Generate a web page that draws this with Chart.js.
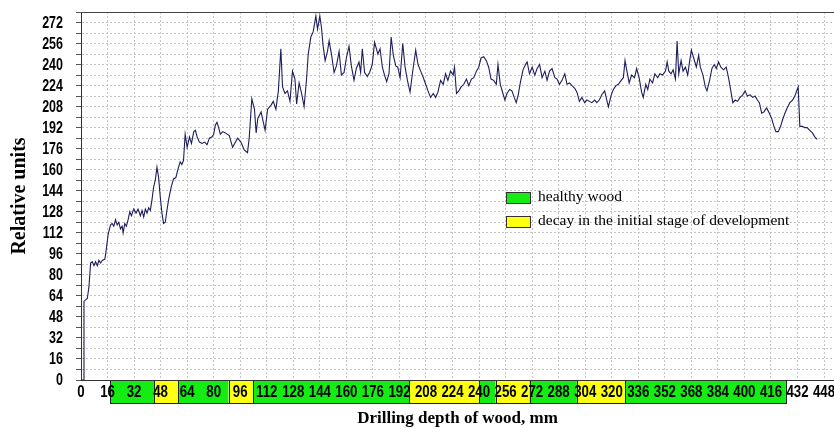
<!DOCTYPE html>
<html>
<head>
<meta charset="utf-8">
<script src="https://cdn.jsdelivr.net/npm/chart.js@4.4.1/dist/chart.umd.min.js"></script>
<style>
  html, body { margin: 0; padding: 0; background: #fff; }
  #wrap { position: relative; width: 834px; height: 429px; }
</style>
</head>
<body>
<div id="wrap"><canvas id="chart"></canvas></div>
<script>
// drilling depth (mm) and resistance (relative units)
const depth = [
  0, 1.5, 1.8, 2.8, 3.8, 4.8, 5.8, 6.8, 7.8, 8.8, 9.8, 10.8, 11.8, 12.8, 14.4, 15.2, 16.4, 17.8, 18.8, 19.8,
  20.8, 21.8, 22.8, 23.8, 24.8, 25.4, 26.4, 27.4, 28.4, 29.4, 30.4, 31.8, 33.2, 34.4, 35.8, 36.8, 37.8, 38.8, 39.8, 40.8,
  41.8, 42.8, 43.8, 44.8, 45.8, 46.8, 47.8, 48.8, 49.8, 50.8, 51.8, 52.8, 54.4, 55.8, 57.2, 58.4, 59.8, 60.8, 61.8, 62.8,
  64, 65.4, 66.6, 68, 69, 70, 71.4, 73, 74.6, 76, 77.4, 79, 80, 81, 82, 83, 84, 85.5, 87, 89.4,
  91.4, 94.4, 96.4, 98.4, 100.4, 101.4, 103, 104.6, 105.6, 106.6, 108.6, 109.6, 111, 112.5, 114.5, 115.9, 117.5, 119, 120.5, 121.5,
  123, 124.5, 126, 127.5, 129, 130, 131.5, 133, 134.5, 136, 137, 138.6, 140, 141.6, 142.6, 144, 145, 146, 147.2, 148.6,
  149.6, 151, 152.6, 154, 155.6, 157, 158.6, 160, 161.6, 163, 164.6, 166, 167.6, 168.6, 169.6, 171, 172.6, 174, 175.6, 177,
  179, 180.3, 181.7, 183, 184.3, 185.7, 187, 188.3, 189.8, 191, 192.4, 194, 195.4, 196.8, 198.4, 199.8, 201.8, 203.2, 204.8, 206.4,
  207.8, 209.2, 210.8, 212.4, 213.8, 215.2, 216.8, 218.4, 219.8, 221.2, 222.8, 224.4, 225.2, 226.4, 227.8, 229.2, 230.8, 232.4, 233.8, 235.4,
  236.8, 238.4, 239.8, 241.2, 242.8, 244.4, 245.8, 247.2, 248.8, 250.4, 251.4, 252.8, 254.4, 255.6, 256.8, 258.4, 259.8, 261.2, 262.4, 263.6,
  265, 266.5, 268, 269, 270.4, 272, 273.6, 275, 276.5, 278, 279.7, 281, 282.5, 284, 285.7, 287, 288.5, 290, 291.7, 293,
  294.6, 296, 297.7, 299, 300.5, 302, 303.7, 305, 306.5, 308, 309.7, 311, 312.5, 314, 315.7, 317, 318, 319.7, 321, 322.5,
  324, 325.7, 327, 328, 329, 330.5, 332, 333.7, 335, 336.5, 338, 339, 340.5, 341.7, 343, 344.6, 346, 347.7, 349, 350.6,
  352.4, 353.4, 354.4, 355.8, 357, 358.4, 359.4, 360.4, 361.8, 363, 364.4, 365.8, 367, 368, 369.4, 371, 372.4, 373.4, 375, 376.4,
  377.4, 379, 380.4, 381.8, 383, 384.4, 385.8, 387.4, 389, 390.4, 391.8, 393, 394.4, 395.8, 397.4, 399, 400.4, 401.8, 403.4, 405,
  406.4, 407.8, 409, 410.4, 411.8, 413.4, 415, 416.4, 417.8, 419, 420.4, 421.8, 423, 424.4, 425.8, 427.4, 429, 430.4, 431.8, 432.4,
  433.4, 435, 436.4, 437.8, 439.4, 441, 442.4, 443.8
];
const amplitude = [
  0, 0, 60, 61, 62, 71, 89, 90, 87, 90, 87, 91, 89, 91, 92, 99, 111, 118, 119, 117,
  122, 118, 120, 115, 117, 112, 119, 117, 122, 128, 125, 130, 127, 130, 125, 129, 124, 130, 127, 131,
  129, 137, 147, 152, 162, 154, 139, 127, 119, 120, 129, 137, 147, 153, 154, 160, 166, 164, 167, 187,
  177, 185, 180, 189, 190, 185, 181, 180, 181, 179, 184, 185, 187, 194, 196, 192, 187, 189, 188, 186,
  177, 184, 181, 175, 173, 184, 214, 206, 188, 199, 204, 198, 190, 206, 209, 212, 206, 220, 252, 223,
  218, 220, 212, 235, 229, 210, 226, 218, 208, 229, 248, 261, 265, 277, 267, 277, 268, 254, 243, 250,
  258, 248, 234, 239, 250, 232, 234, 245, 254, 239, 228, 237, 242, 234, 252, 234, 231, 234, 240, 257,
  248, 252, 238, 232, 227, 233, 261, 247, 239, 238, 230, 256, 238, 228, 219, 233, 251, 240, 235, 230,
  225, 220, 215, 218, 215, 219, 228, 225, 233, 228, 235, 232, 238, 218, 220, 223, 225, 229, 224, 229,
  230, 235, 238, 245, 246, 243, 238, 229, 228, 225, 240, 225, 218, 213, 218, 221, 220, 215, 211, 217,
  227, 236, 240, 242, 233, 238, 232, 237, 240, 230, 235, 228, 235, 237, 230, 229, 225, 228, 233, 225,
  226, 224, 222, 219, 212, 215, 211, 213, 212, 211, 213, 211, 213, 217, 220, 213, 208, 217, 221, 224,
  225, 228, 230, 243, 236, 226, 232, 230, 237, 230, 219, 215, 225, 221, 229, 226, 233, 230, 233, 232,
  235, 242, 235, 233, 236, 229, 258, 233, 243, 235, 238, 232, 243, 251, 245, 238, 247, 238, 232, 223,
  220, 228, 237, 240, 237, 242, 238, 236, 238, 230, 220, 211, 213, 212, 215, 217, 220, 216, 217, 215,
  216, 213, 211, 203, 204, 207, 203, 199, 193, 189, 189, 193, 198, 203, 207, 211, 213, 216, 221, 223,
  193, 193, 192, 192, 190, 188, 185, 183
];

// wood condition strip under the depth axis
const stageFrom = [17.5, 44, 58.5, 89, 104, 198, 240, 250, 270.5, 299, 328];
const stageTo   = [44, 58.5, 89, 104, 198, 240, 250, 270.5, 299, 328, 425];
const stageKind = [0, 1, 0, 1, 0, 1, 0, 1, 0, 1, 0];
const stageNames = ["healthy wood", "decay in the initial stage of development"];
const stageColors = ["#14ec14", "#ffff10"];

const xTickValues = [0, 16, 32, 48, 64, 80, 96, 112, 128, 144, 160, 176, 192, 208, 224, 240, 256, 272, 288, 304, 320, 336, 352, 368, 384, 400, 416, 432, 448];
const yTickValues = [0, 16, 32, 48, 64, 80, 96, 112, 128, 144, 160, 176, 192, 208, 224, 240, 256, 272];

const sans = "'Liberation Sans', Arial, sans-serif";
const serif = "'Liberation Serif', 'DejaVu Serif', serif";

// narrow bold tick labels like the original instrument software
function narrowText(ctx, text, x, y, size, squeeze, align) {
    ctx.save();
    ctx.translate(x, y);
    ctx.scale(squeeze, 1);
    ctx.font = "bold " + size + "px " + sans;
    ctx.textAlign = align;
    ctx.textBaseline = "middle";
    ctx.fillStyle = "#000";
    ctx.fillText(text, 0, 0);
    ctx.restore();
}

const stagePlugin = {
    id: "stages",
    beforeDraw(chart) {
        const ctx = chart.ctx;
        const x = chart.scales.x;
        const top = chart.chartArea.bottom;
        const h = 23;
        ctx.save();
        ctx.strokeStyle = "#222";
        ctx.lineWidth = 1;
        stageFrom.forEach((from, i) => {
            const x1 = x.getPixelForValue(from);
            const x2 = x.getPixelForValue(stageTo[i]);
            ctx.fillStyle = stageColors[stageKind[i]];
            ctx.fillRect(x1, top, x2 - x1, h);
            ctx.strokeRect(Math.round(x1) + 0.5, top + 0.5, Math.round(x2 - x1), h);
        });
        ctx.restore();
    },
    afterDraw(chart) {
        const ctx = chart.ctx;
        const area = chart.chartArea;
        const xs = chart.scales.x;
        const ys = chart.scales.y;

        // top frame
        ctx.save();
        ctx.strokeStyle = "#444";
        ctx.lineWidth = 1;
        ctx.beginPath();
        ctx.moveTo(area.left, area.top + 0.5);
        ctx.lineTo(area.right, area.top + 0.5);
        ctx.stroke();
        ctx.restore();

        // tick labels
        xTickValues.forEach(v => {
            narrowText(ctx, String(v), xs.getPixelForValue(v), area.bottom + 12, 17, 0.78, "center");
        });
        yTickValues.forEach(v => {
            narrowText(ctx, String(v), area.left - 18, ys.getPixelForValue(v) + 1, 16, 0.78, "right");
        });

        // legend
        const lx = 506, ly = 192;
        ctx.save();
        ctx.font = "15.5px " + serif;
        ctx.textBaseline = "middle";
        stageNames.forEach((name, i) => {
            const y = ly + i * 24;
            ctx.fillStyle = stageColors[i];
            ctx.fillRect(lx, y, 24, 11);
            ctx.strokeStyle = "#333";
            ctx.strokeRect(lx + 0.5, y + 0.5, 24, 11);
            ctx.fillStyle = "#000";
            ctx.fillText(name, lx + 32, y + 5);
        });
        ctx.restore();
    }
};

const points = depth.map((d, i) => ({ x: d, y: amplitude[i] }));

new Chart(document.getElementById("chart"), {
    type: "line",
    data: {
        datasets: [{
            data: points,
            borderColor: "#1d1d5e",
            borderWidth: 1.1,
            pointRadius: 0,
            tension: 0
        }]
    },
    options: {
        responsive: true,
        maintainAspectRatio: false,
        animation: false,
        layout: { padding: { top: 12, right: 0, bottom: 0, left: 0 } },
        plugins: { legend: { display: false }, tooltip: { enabled: false } },
        scales: {
            x: {
                type: "linear",
                min: 0,
                max: 454,
                afterBuildTicks(scale) {
                    scale.ticks = xTickValues.map(v => ({ value: v }));
                },
                afterFit(scale) { scale.height = 49; },
                grid: {
                    color: "#c4c4c4",
                    drawTicks: false
                },
                border: { color: "#333", width: 1, dash: [2, 2] },
                ticks: { display: false },
                title: {
                    display: true,
                    text: "Drilling depth of wood, mm",
                    color: "#000",
                    padding: { top: 0, bottom: 0 },
                    font: { family: serif, size: 17, weight: "bold" }
                }
            },
            y: {
                min: 0,
                max: 280,
                afterBuildTicks(scale) {
                    const t = [];
                    yTickValues.forEach(v => { t.push({ value: v }); t.push({ value: v + 8 }); });
                    scale.ticks = t;
                },
                afterFit(scale) { scale.width = 81; },
                grid: {
                    color: "#c4c4c4",
                    tickColor: "#555",
                    tickLength: 5
                },
                border: { color: "#333", width: 1, dash: [2, 2] },
                ticks: { display: false },
                title: {
                    display: true,
                    text: "Relative units",
                    color: "#000",
                    padding: { top: 8, bottom: 0 },
                    font: { family: serif, size: 20, weight: "bold" }
                }
            }
        }
    },
    plugins: [stagePlugin]
});
</script>
</body>
</html>
